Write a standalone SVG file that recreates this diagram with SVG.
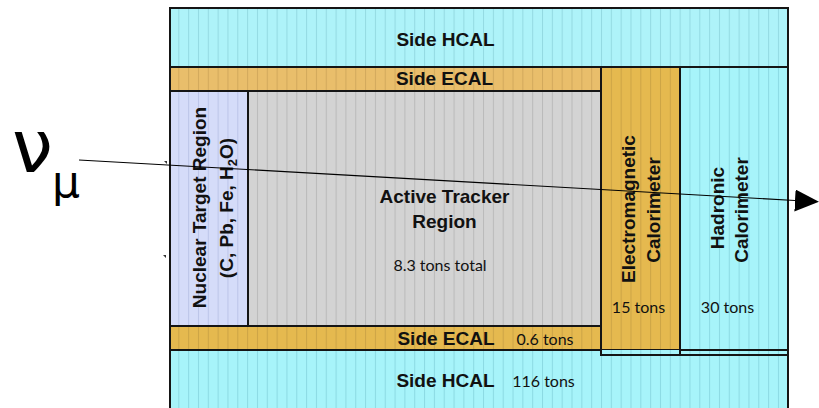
<svg xmlns="http://www.w3.org/2000/svg" width="819" height="408" viewBox="0 0 819 408">
<style>
.b{stroke:#151515;stroke-width:2;}
.lbl{font-family:"Liberation Sans",Arial,sans-serif;font-weight:bold;font-size:19px;fill:#111;text-anchor:middle;}
.ton{font-family:Lato,"Liberation Sans",sans-serif;font-size:16px;fill:#111;text-anchor:middle;}
.nu{font-family:"DejaVu Sans",sans-serif;fill:#000;}
</style>
<defs>
<pattern id="pH" patternUnits="userSpaceOnUse" x="178.3" y="0" width="9.83" height="10"><rect width="9.83" height="10" fill="#AEF3F9"/><rect width="1" height="10" fill="#94DAE2"/></pattern>
<pattern id="pH2" patternUnits="userSpaceOnUse" x="178.3" y="0" width="9.83" height="10"><rect width="9.83" height="10" fill="#A7F4FA"/><rect width="1" height="10" fill="#8CDAE3"/></pattern>
<pattern id="pE" patternUnits="userSpaceOnUse" x="178.3" y="0" width="9.83" height="10"><rect width="9.83" height="10" fill="#E9BE6B"/><rect width="1" height="10" fill="#D2A95C"/></pattern>
<pattern id="pE2" patternUnits="userSpaceOnUse" x="178.3" y="0" width="9.83" height="10"><rect width="9.83" height="10" fill="#E5B94F"/><rect width="1" height="10" fill="#CCA446"/></pattern>
<pattern id="pN" patternUnits="userSpaceOnUse" x="178.3" y="0" width="9.83" height="10"><rect width="9.83" height="10" fill="#D5DCF9"/><rect width="1" height="10" fill="#BCC5E8"/></pattern>
<pattern id="pT" patternUnits="userSpaceOnUse" x="178.3" y="0" width="9.83" height="10"><rect width="9.83" height="10" fill="#D3D3D3"/><rect width="1" height="10" fill="#BABABA"/></pattern>
<marker id="arr" markerUnits="userSpaceOnUse" markerWidth="26" markerHeight="24" refX="0" refY="11" orient="auto"><path d="M0,0 L24,11 L0,22 z" fill="#000"/></marker>
</defs>
<rect width="819" height="408" fill="#fff"/>

<g id="side-hcal-top">
<rect class="b" x="170" y="8" width="618" height="59" fill="url(#pH)"/>
<text class="lbl" x="445.5" y="46">Side HCAL</text>
</g>
<g id="side-ecal-top">
<rect class="b" x="170" y="67" width="431" height="24" fill="url(#pE)"/>
<text class="lbl" x="444.5" y="85">Side ECAL</text>
</g>
<g id="side-hcal-bottom">
<rect class="b" x="170" y="350" width="618" height="62" fill="url(#pH2)"/>
<text class="lbl" x="445.5" y="387">Side HCAL</text>
<text class="ton" x="543.5" y="387">116 tons</text>
</g>
<g id="side-ecal-bottom">
<rect class="b" x="170" y="326" width="431" height="24" fill="url(#pE2)"/>
<text class="lbl" x="446" y="345">Side ECAL</text>
<text class="ton" x="545" y="345">0.6 tons</text>
</g>
<g id="nuclear-target">
<rect class="b" x="170" y="91" width="78" height="235" fill="url(#pN)"/>
<text class="lbl" transform="translate(206,207.5) rotate(-90)">Nuclear Target Region</text>
<text class="lbl" transform="translate(233,208) rotate(-90)">(C, Pb, Fe, H<tspan font-size="13" dy="4">2</tspan><tspan dy="-4">O)</tspan></text>
</g>
<g id="active-tracker">
<rect class="b" x="248" y="91" width="353" height="235" fill="url(#pT)"/>
<text class="lbl" x="444.5" y="203">Active Tracker</text>
<text class="lbl" x="444.5" y="228">Region</text>
<text class="ton" x="440" y="271">8.3 tons total</text>
</g>
<g id="em-calorimeter">
<rect class="b" x="601" y="67" width="79" height="283" fill="url(#pE2)"/>
<rect x="601" y="350" width="79" height="5" fill="url(#pH2)"/>
<rect class="b" x="601" y="67" width="79" height="288" fill="none"/>
<text class="lbl" transform="translate(635,209) rotate(-90)">Electromagnetic</text>
<text class="lbl" transform="translate(660,210) rotate(-90)">Calorimeter</text>
<text class="ton" x="638.5" y="313">15 tons</text>
</g>
<g id="hadronic-calorimeter">
<rect class="b" x="680" y="67" width="108" height="283" fill="url(#pH2)"/>
<rect class="b" x="680" y="67" width="108" height="288" fill="none"/>
<text class="lbl" transform="translate(724,208) rotate(-90)">Hadronic</text>
<text class="lbl" transform="translate(748,210) rotate(-90)">Calorimeter</text>
<text class="ton" x="727.5" y="313">30 tons</text>
</g>

<g id="neutrino">
<text class="nu" x="12" y="172" font-size="73">ν</text>
<text class="nu" x="52" y="197" font-size="44">μ</text>
</g>

<g id="connectors">
<line x1="79" y1="160" x2="795" y2="200.5" stroke="#000" stroke-width="1.2" marker-end="url(#arr)"/>
<path d="M164,161 l3,0 l0,3 z M163,255 l3,0 l0,3 z" fill="#333"/>
</g>
</svg>
